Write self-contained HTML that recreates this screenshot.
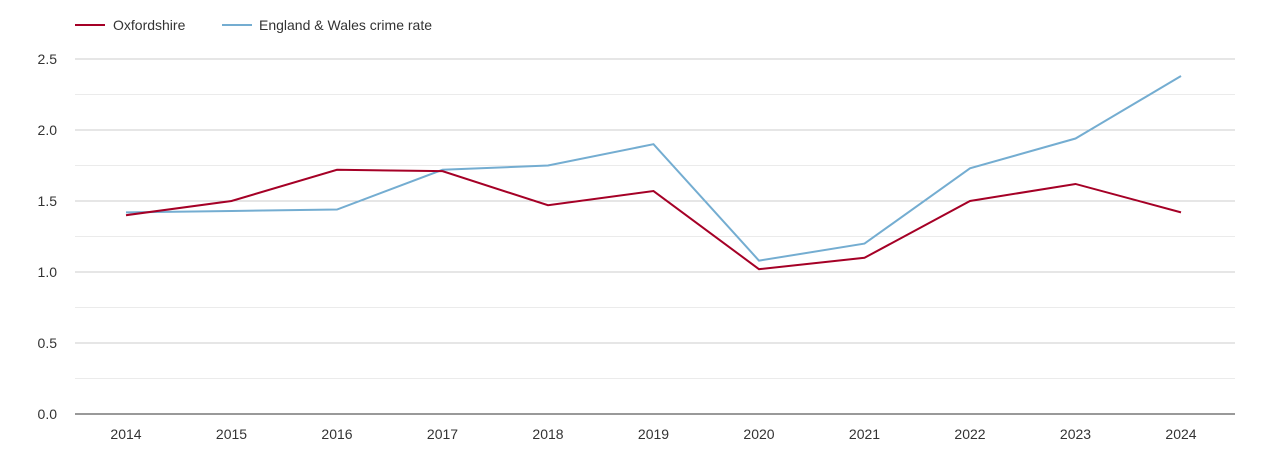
<!DOCTYPE html>
<html><head><meta charset="utf-8"><style>
body{margin:0;background:#fff;font-family:"Liberation Sans",sans-serif}
svg text{font-family:"Liberation Sans",sans-serif}
</style></head><body>
<svg id="chart" width="1270" height="450" xmlns="http://www.w3.org/2000/svg">
<g id="legend">
 <g><line x1="75" y1="25" x2="105" y2="25" stroke="#a50026" stroke-width="2"/><text x="113" y="30" font-size="14" fill="#333">Oxfordshire</text></g>
 <g><line x1="222" y1="25" x2="252" y2="25" stroke="#74add1" stroke-width="2"/><text x="259" y="30" font-size="14" fill="#333">England &amp; Wales crime rate</text></g>
</g>
<g id="grid"></g><g id="axes"></g><g id="series"></g>
</svg>
<script>
const years=["2014","2015","2016","2017","2018","2019","2020","2021","2022","2023","2024"];
const oxfordshire=[1.40,1.50,1.72,1.71,1.47,1.57,1.02,1.10,1.50,1.62,1.42];
const englandWales=[1.42,1.43,1.44,1.72,1.75,1.90,1.08,1.20,1.73,1.94,2.38];
const yTicks=[0,0.5,1.0,1.5,2.0,2.5];
const NS="http://www.w3.org/2000/svg";
const x0=126,xStep=105.5,yBase=414,yMax=2.5,yTop=59,left=75,right=1235;
const xs=i=>x0+i*(1181-x0)/(years.length-1);
const ys=v=>yBase-v*(yBase-yTop)/yMax;
function mk(t,a,p){const e=document.createElementNS(NS,t);for(const k in a)e.setAttribute(k,a[k]);p.appendChild(e);return e;}
const grid=document.getElementById('grid'),axes=document.getElementById('axes'),series=document.getElementById('series');
for(let v=0.25;v<=yMax+1e-9;v+=0.5){const l=mk('line',{x1:left,x2:right,y1:ys(v),y2:ys(v),stroke:'#ebebeb'},grid);

}
yTicks.forEach(v=>{const l=mk('line',{x1:left,x2:right,y1:ys(v),y2:ys(v),stroke:v===0?'#333':'#ccc'},grid);


const t=mk('text',{x:57,y:ys(v)+5,'text-anchor':'end','font-size':14,fill:'#333'},axes);t.textContent=v.toFixed(1);

});
years.forEach((y,i)=>{const t=mk('text',{x:xs(i),y:439,'text-anchor':'middle','font-size':14,fill:'#333'},axes);t.textContent=y;

});
function line(d,c,n){const p=mk('polyline',{points:d.map((v,i)=>xs(i)+','+ys(v)).join(' '),fill:'none',stroke:c,'stroke-width':2},series);

}
line(englandWales,'#74add1','england-wales-line');
line(oxfordshire,'#a50026','oxfordshire-line');
</script>
</body></html>
